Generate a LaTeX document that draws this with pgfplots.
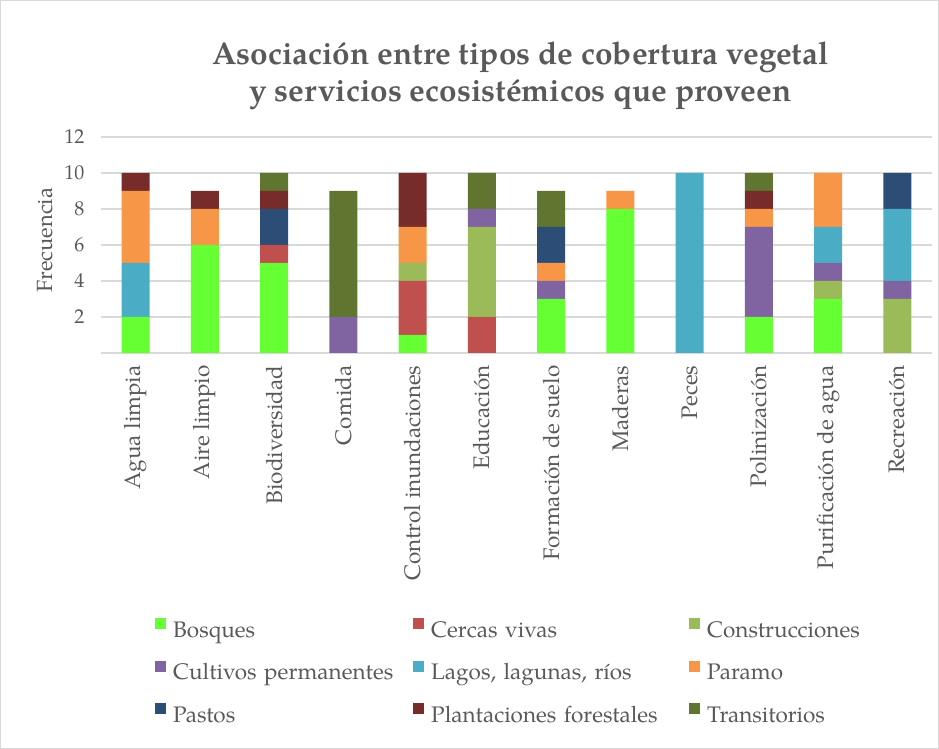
\documentclass[border=0pt]{standalone}
\usepackage{fontspec}
\setmainfont{TeX Gyre Pagella}
\usepackage{pgfplots}
\usepackage{pgfplotstable}
\pgfplotsset{compat=1.18}
\definecolor{txt}{HTML}{595959}
\definecolor{grd}{HTML}{D9D9D9}
\definecolor{cB}{HTML}{66FF33}
\definecolor{cC}{HTML}{C0504D}
\definecolor{cCo}{HTML}{9BBB59}
\definecolor{cCu}{HTML}{8064A2}
\definecolor{cL}{HTML}{4BACC6}
\definecolor{cP}{HTML}{F79646}
\definecolor{cPa}{HTML}{2C4D75}
\definecolor{cPl}{HTML}{772C2A}
\definecolor{cT}{HTML}{5F7530}
\pgfplotstableread{
x  B C Co Cu L  P Pa Pl T
0  2 0 0  0  3  4 0  1  0
1  6 0 0  0  0  2 0  1  0
2  5 1 0  0  0  0 2  1  1
3  0 0 0  2  0  0 0  0  7
4  1 3 1  0  0  2 0  3  0
5  0 2 5  1  0  0 0  0  2
6  3 0 0  1  0  1 2  0  2
7  8 0 0  0  0  1 0  0  0
8  0 0 0  0  10 0 0  0  0
9  2 0 0  5  0  1 0  1  1
10 3 0 1  1  2  3 0  0  0
11 0 0 3  1  4  0 2  0  0
}\datatable
\begin{document}
\begin{tikzpicture}
\path[use as bounding box] (0pt,0pt) rectangle (939pt,749pt);
\draw[color=grd, line width=1pt] (0.5pt,0.5pt) rectangle (938.5pt,748.5pt);
\begin{axis}[
  at={(101pt,396pt)}, anchor=south west,
  scale only axis, width=831pt, height=216pt,
  ybar stacked, bar width=28pt,
  xmin=-0.5, xmax=11.5, ymin=0, ymax=12,
  xtick={0,...,11},
  xticklabels={Agua limpia,Aire limpio,Biodiversidad,Comida,Control inundaciones,Educación,Formación de suelo,Maderas,Peces,Polinización,Purificación de agua,Recreación},
  x tick label style={rotate=90, anchor=east, font=\fontsize{22.5}{26}\selectfont, text=txt},
  xticklabel shift=9pt,
  ytick={2,4,...,12},
  extra y ticks={0}, extra y tick labels={},
  extra y tick style={ymajorgrids=true},
  y tick label style={font=\fontsize{20}{24}\selectfont, text=txt, xshift=-13pt},
  /pgf/number format/assume math mode=true,
  ymajorgrids, grid style={color=grd, line width=1.5pt},
  major tick length=0pt,
  axis line style={draw=none},
  ylabel={Frecuencia},
  ylabel style={at={(axis description cs:-0.067,0.523)}, anchor=center, font=\fontsize{22}{26}\selectfont, text=txt},
  title={Asociación entre tipos de cobertura vegetal\\y servicios ecosistémicos que proveen},
  title style={align=center, font=\bfseries\fontsize{31.5}{37}\selectfont, text=txt, at={(axis description cs:0.5,1)}, anchor=south, yshift=18pt, xshift=4pt},
  every axis plot post/.append style={draw=none, legend image code/.code={\fill[##1] (0pt,3pt) rectangle (11pt,14pt);}},
  legend columns=3,
  legend cell align=left,
  legend style={draw=none, fill=none, at={(axis description cs:0.0614,-1.218)}, anchor=north west,
    font=\fontsize{22.5}{26}\selectfont, text=txt,
    nodes={inner sep=0pt, text height=15pt, text depth=5pt},
    row sep=18.5pt, column sep=0pt,
    /tikz/every odd column/.append style={column sep=7pt},
    /tikz/column 2/.append style={text width=240pt},
    /tikz/column 4/.append style={text width=258pt},
    /tikz/column 6/.append style={text width=170pt}},
]
\addplot[fill=cB] table[x=x,y=B]{\datatable};
\addplot[fill=cC] table[x=x,y=C]{\datatable};
\addplot[fill=cCo] table[x=x,y=Co]{\datatable};
\addplot[fill=cCu] table[x=x,y=Cu]{\datatable};
\addplot[fill=cL] table[x=x,y=L]{\datatable};
\addplot[fill=cP] table[x=x,y=P]{\datatable};
\addplot[fill=cPa] table[x=x,y=Pa]{\datatable};
\addplot[fill=cPl] table[x=x,y=Pl]{\datatable};
\addplot[fill=cT] table[x=x,y=T]{\datatable};
\legend{Bosques,Cercas vivas,Construcciones,Cultivos permanentes,{Lagos, lagunas, ríos},Paramo,Pastos,Plantaciones forestales,Transitorios}
\end{axis}
\end{tikzpicture}
\end{document}
